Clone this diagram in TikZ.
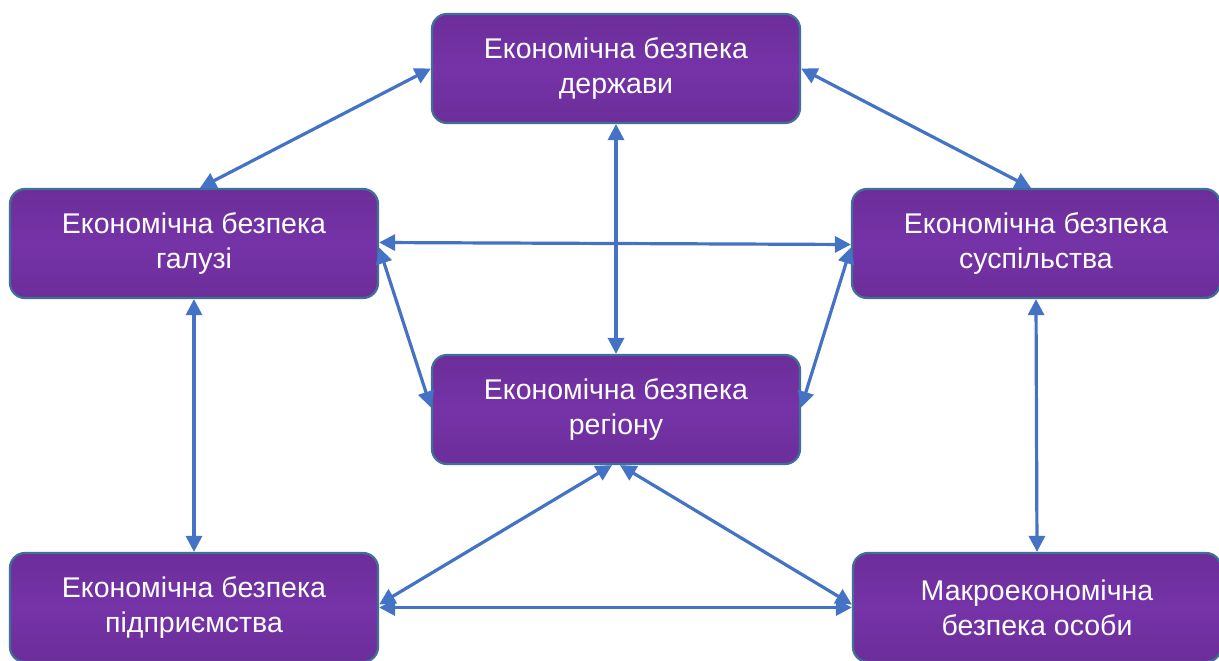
\documentclass[tikz,border=0pt]{standalone}
\usepackage{fontspec}
\setmainfont{Liberation Sans}
\usetikzlibrary{arrows.meta,calc}
\definecolor{boxfill}{HTML}{7533A8}
\definecolor{boxedge}{HTML}{3F7198}
\definecolor{boxdark}{HTML}{6C2E99}
\definecolor{arrowblue}{HTML}{4472C4}
\tikzset{
  secbox/.style={rectangle, rounded corners=15pt, draw=boxedge, line width=2.2pt,
    top color=boxdark, bottom color=boxdark, middle color=boxfill,
    minimum width=368pt, minimum height=109pt, inner sep=0pt,
    text=white, align=center, font=\fontsize{28.5}{35}\selectfont},
  link/.style={draw=arrowblue, line width=3.2pt,
    {Triangle[length=16pt,width=16pt]}-{Triangle[length=16pt,width=16pt]}}
}
\begin{document}
\begin{tikzpicture}[x=1pt,y=-1pt]
\useasboundingbox (0,0) rectangle (1219,661);
\clip (0,0) rectangle (1219,661);
\node[secbox] (st)  at (616,68.5)  {Економічна безпека\\держави};
\node[secbox] (gal) at (194,243.5) {Економічна безпека\\галузі};
\node[secbox] (soc) at (1036,243.5) {Економічна безпека\\суспільства};
\node[secbox] (reg) at (616,409.5) {Економічна безпека\\регіону};
\node[secbox] (ent) at (194,607.5) {Економічна безпека\\підприємства};
\node[secbox] (mac) at (1037,607.5) {Макроекономічна\\безпека особи};

\draw[link] (st.west) -- ($(gal.north)+(6,0)$);
\draw[link] (st.east) -- ($(soc.north)+(-5,0)$);
\draw[link] (st.south) -- (reg.north);
\draw[link] ($(gal.east)+(0,-1)$) -- ($(soc.west)+(0,1)$);
\draw[link] ($(gal.east)+(0,4)$) -- ($(reg.west)+(0,-2)$);
\draw[link] ($(soc.west)+(0,4)$) -- ($(reg.east)+(0,-2)$);
\draw[link] (gal.south) -- (ent.north);
\draw[link] (soc.south) -- (mac.north);
\draw[link] ($(reg.south)+(-4,0)$) -- ($(ent.east)+(0,-3)$);
\draw[link] ($(reg.south)+(4,0)$) -- ($(mac.west)+(0,-3)$);
\draw[link] (ent.east) -- (mac.west);
\end{tikzpicture}
\end{document}
